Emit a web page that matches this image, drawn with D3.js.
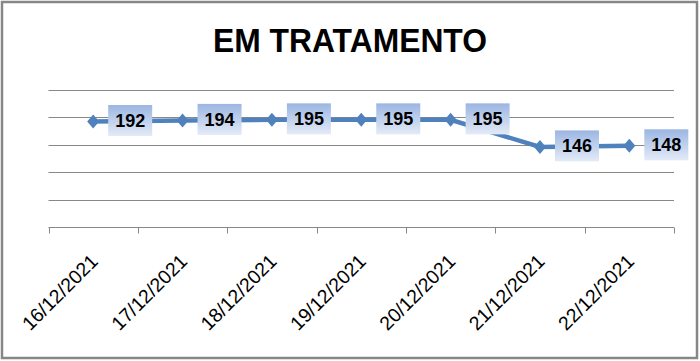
<!DOCTYPE html>
<html>
<head>
<meta charset="utf-8">
<script src="https://cdn.jsdelivr.net/npm/d3@7"></script>
<style>
  body { margin: 0; background: #fff; }
  svg { display: block; font-family: "Liberation Sans", Arial, sans-serif; }
</style>
</head>
<body>
<svg id="chart"></svg>
<script>
// data
var dates = ["16/12/2021", "17/12/2021", "18/12/2021", "19/12/2021", "20/12/2021", "21/12/2021", "22/12/2021"];
var values = [192, 194, 195, 195, 195, 146, 148];
var gridTicks = [0, 50, 100, 150, 200, 250];
var title = "EM TRATAMENTO";

var screen = {width: 700, height: 361};
var plot = {left: 48.5, right: 674, top: 89.5, bottom: 227.5};

var svg = d3.select("#chart")
    .attr("width", screen.width)
    .attr("height", screen.height);

// gradient for the data labels
var grad = svg.append("defs").append("linearGradient")
    .attr("id", "lblGrad")
    .attr("x1", 0).attr("y1", 0).attr("x2", 0).attr("y2", 1);
grad.append("stop").attr("offset", "0%").attr("stop-color", "#9bb6e2");
grad.append("stop").attr("offset", "100%").attr("stop-color", "#e3ebf7");

// outer border
svg.append("rect")
    .attr("x", 2).attr("y", 2)
    .attr("width", 695).attr("height", 356)
    .attr("fill", "#fff")
    .attr("stroke", "#878787")
    .attr("stroke-width", 2.5);

svg.append("text")
    .attr("x", 350)
    .attr("y", 52)
    .attr("text-anchor", "middle")
    .attr("font-size", 34)
    .attr("font-weight", "bold")
    .attr("textLength", 274)
    .attr("lengthAdjust", "spacingAndGlyphs")
    .attr("fill", "#000")
    .text(title);

var xScale = d3.scaleBand()
    .domain(dates)
    .range([plot.left, plot.right]);

var yScale = d3.scaleLinear()
    .domain([0, 250])
    .range([plot.bottom, plot.top]);

// gridlines
svg.append("g")
    .selectAll("line")
    .data(gridTicks.slice(1))
    .enter()
    .append("line")
    .attr("x1", plot.left)
    .attr("x2", plot.right)
    .attr("y1", function(d) { return Math.round(yScale(d)) + 0.5; })
    .attr("y2", function(d) { return Math.round(yScale(d)) + 0.5; })
    .attr("stroke", "#888")
    .attr("stroke-width", 1);

// x axis with ticks on band edges
var xAxis = svg.append("g")
    .attr("transform", "translate(0," + plot.bottom + ")");
xAxis.append("line")
    .attr("x1", plot.left).attr("x2", plot.right)
    .attr("stroke", "#888");
xAxis.selectAll(".tk")
    .data(dates.concat(["end"]))
    .enter()
    .append("line")
    .attr("class", "tk")
    .attr("x1", function(d, i) { return Math.round(plot.left + i * xScale.step()) + 0.5; })
    .attr("x2", function(d, i) { return Math.round(plot.left + i * xScale.step()) + 0.5; })
    .attr("y1", 0).attr("y2", 6)
    .attr("stroke", "#888");

xAxis.selectAll(".lbl")
    .data(dates)
    .enter()
    .append("text")
    .attr("class", "lbl")
    .attr("text-anchor", "end")
    .attr("font-size", 19.5)
    .attr("fill", "#000")
    .attr("transform", function(d) {
        var cx = xScale(d) + xScale.bandwidth() / 2;
        return "translate(" + (cx + 6) + ",35) rotate(-45)";
    })
    .text(function(d) { return d; });

var cx = function(d, i) { return xScale(dates[i]) + xScale.bandwidth() / 2; };

// line
var line = d3.line()
    .x(function(d, i) { return cx(d, i); })
    .y(function(d) { return yScale(d); });

svg.append("path")
    .datum(values)
    .attr("d", line)
    .attr("fill", "none")
    .attr("stroke", "#4f81bd")
    .attr("stroke-width", 4.5);

// diamond markers
svg.append("g")
    .selectAll("path")
    .data(values)
    .enter()
    .append("path")
    .attr("d", "M0,-7L6,0L0,7L-6,0Z")
    .attr("transform", function(d, i) { return "translate(" + cx(d, i) + "," + yScale(d) + ")"; })
    .attr("fill", "#4f81bd");

// data labels
var labels = svg.append("g")
    .selectAll("g")
    .data(values)
    .enter()
    .append("g")
    .attr("transform", function(d, i) { return "translate(" + (cx(d, i) + 37) + "," + (yScale(d) - 1) + ")"; });

labels.append("rect")
    .attr("x", -22).attr("y", -15.5)
    .attr("width", 44).attr("height", 31)
    .attr("fill", "url(#lblGrad)");

labels.append("text")
    .attr("text-anchor", "middle")
    .attr("dy", "0.36em")
    .attr("font-size", 18)
    .attr("font-weight", "bold")
    .attr("fill", "#000")
    .text(function(d) { return d; });
</script>
</body>
</html>
